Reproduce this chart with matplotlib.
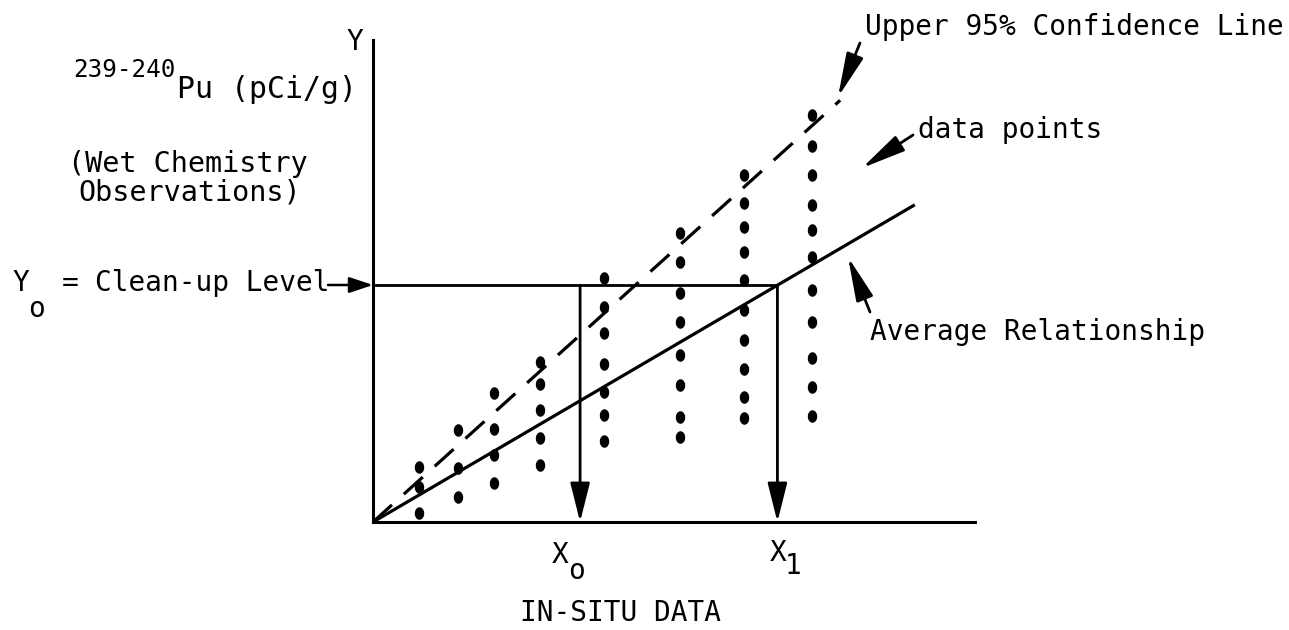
import numpy as np
import matplotlib.pyplot as plt
from matplotlib.path import Path
from matplotlib.patches import FancyArrowPatch

# observations, grouped by in-situ reading (x) -> wet chemistry values (y)
col_x = [0.76, 1.41, 2.01, 2.77, 3.84, 5.10, 6.16, 7.29]
col_y = [
    [0.91, 0.58, 0.15],
    [1.53, 0.90, 0.41],
    [2.14, 1.54, 1.11, 0.65],
    [2.66, 2.29, 1.86, 1.39, 0.95],
    [4.05, 3.57, 3.14, 2.62, 2.16, 1.78, 1.34],
    [4.80, 4.32, 3.80, 3.32, 2.77, 2.27, 1.74, 1.41],
    [5.76, 5.29, 4.90, 4.48, 4.02, 3.52, 3.02, 2.54, 2.07, 1.73],
    [6.76, 6.24, 5.76, 5.26, 4.85, 4.40, 3.85, 3.32, 2.72, 2.24, 1.76],
]

avg_slope = 0.585     # average relationship
avg_end = 9.0
upper_slope = 0.902   # upper 95% confidence line
upper_end = 7.76
y_clean = 3.93        # Yo
x_0 = 3.44            # Xo
x_1 = y_clean / avg_slope

W, H = 1289, 630
FONT = 'DejaVu Sans Mono'
FS = 20

fig = plt.figure(figsize=(W / 100, H / 100), dpi=100)
ax = fig.add_axes([373 / W, 108 / H, 602 / W, 482 / H])
ax.set_xlim(0, 10)
ax.set_ylim(0, 8)
for s in ['top', 'right']:
    ax.spines[s].set_visible(False)
for s in ['left', 'bottom']:
    ax.spines[s].set_linewidth(2.2)
ax.set_xticks([])
ax.set_yticks([])

def px(x, y):
    # reference pixel position -> figure fraction
    return (x / W, 1 - y / H)

# dots, a bit taller than wide
t = np.linspace(0, 2 * np.pi, 40)
dot = Path(np.column_stack([0.72 * np.cos(t), np.sin(t)]))
xs = [x for x, ys in zip(col_x, col_y) for _ in ys]
ys = [y for ys_ in col_y for y in ys_]
ax.plot(xs, ys, ls='none', marker=dot, ms=8, color='black', clip_on=False)

ax.plot([0, avg_end], [0, avg_end * avg_slope], color='black', lw=2.3,
        solid_capstyle='butt', clip_on=False)
ax.plot([0, upper_end], [0, upper_end * upper_slope], color='black', lw=2.3,
        dashes=(8, 5), clip_on=False)
ax.plot([0, x_1], [y_clean, y_clean], color='black', lw=2, clip_on=False)

for xv in [x_0, x_1]:
    ax.annotate('', xy=(xv, 0), xytext=(xv, y_clean),
                arrowprops=dict(arrowstyle='-|>,head_length=1.2,head_width=0.3',
                                lw=2, color='black', mutation_scale=20,
                                shrinkA=0, shrinkB=0))

def txt(x, y, s, size=FS, ha='left'):
    fig.text(*px(x, y), s, fontsize=size, family=FONT, ha=ha, va='center')

txt(355, 42, 'Y', ha='center')
txt(176, 70, '239-240', size=17.5, ha='right')
txt(177, 90, 'Pu (pCi/g)', size=21.5)
txt(68, 164, '(Wet Chemistry', size=20.5)
txt(78, 192, 'Observations)', size=20.5)
txt(21, 283, 'Y', ha='center')
txt(37, 309, 'o', ha='center')
txt(70, 283, '=', ha='center')
txt(95, 283, 'Clean-up Level')
txt(560, 555, 'X', ha='center')
txt(577, 571, 'o', ha='center')
txt(778, 553, 'X', ha='center')
txt(793, 566, '1', ha='center')
txt(620, 613, 'IN-SITU DATA', ha='center')
txt(865, 27, 'Upper 95% Confidence Line')
txt(918, 130, 'data points')
txt(870, 332, 'Average Relationship')

# clean-up level pointer with open head
fig.add_artist(FancyArrowPatch(
    px(328, 285), px(373, 285), transform=fig.transFigure,
    arrowstyle='-|>,head_length=0.9,head_width=0.3', mutation_scale=16,
    lw=1.8, color='black', facecolor='white', shrinkA=0, shrinkB=0))

for start, tip in [((860, 43), (838, 97)), ((913, 135), (862, 168)),
                   ((870, 312), (848, 257))]:
    fig.add_artist(FancyArrowPatch(
        px(*start), px(*tip), transform=fig.transFigure,
        arrowstyle='-|>,head_length=1.5,head_width=0.3', mutation_scale=18,
        lw=2, color='black', shrinkA=0, shrinkB=0))

fig.savefig('out.png', dpi=100)
